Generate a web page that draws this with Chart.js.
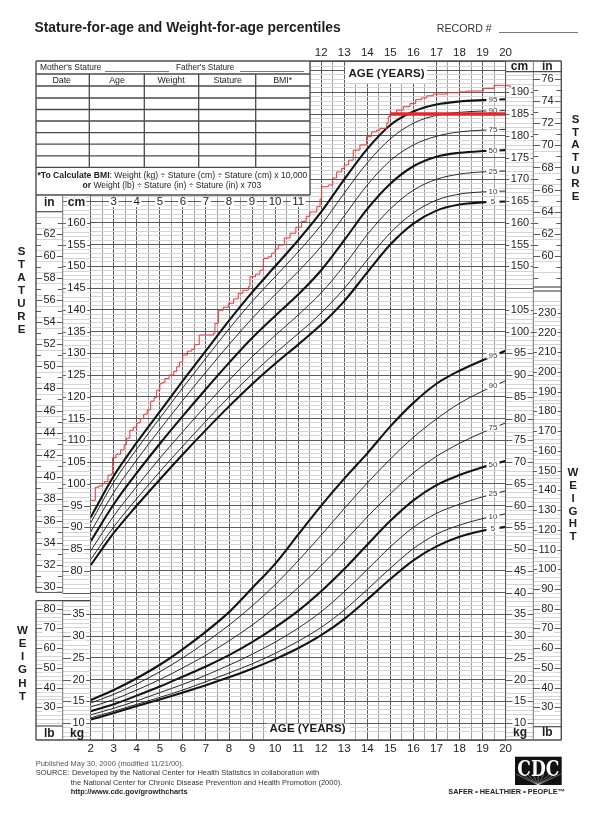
<!DOCTYPE html>
<html>
<head>
<meta charset="utf-8">
<title>Stature-for-age and Weight-for-age percentiles</title>
<script src="https://cdn.jsdelivr.net/npm/chart.js@4.4.1/dist/chart.umd.min.js"></script>
<style>
  html, body { margin: 0; padding: 0; background: #fff; }
  #chart { display: block; }
</style>
</head>
<body>
<canvas id="chart" width="602" height="830"></canvas>
<script>
// ---- data ----
const AGES = [2, 3, 4, 5, 6, 7, 8, 9, 10, 11, 12, 13, 14, 15, 16, 17, 18, 19, 20];
const PCT_NAMES = ["95", "90", "75", "50", "25", "10", "5"];
const THICK = ["95", "50", "5"];

// stature-for-age, cm
const statureP95 = [92.3, 101.8, 109.5, 116.6, 123.7, 130.6, 137.5, 144.0, 150.0, 156.0, 162.5, 170.0, 177.0, 182.5, 185.6, 187.2, 187.9, 188.2, 188.4];
const statureP90 = [91.0, 100.4, 108.0, 115.1, 122.1, 128.9, 135.6, 141.9, 147.6, 153.3, 159.5, 166.8, 173.8, 179.3, 182.9, 184.7, 185.4, 185.7, 185.8];
const statureP75 = [88.9, 98.0, 105.5, 112.5, 119.2, 125.7, 132.0, 138.0, 143.5, 148.8, 154.6, 161.6, 168.7, 174.3, 177.9, 179.9, 180.9, 181.3, 181.5];
const statureP50 = [86.8, 95.3, 102.5, 109.2, 115.6, 121.8, 127.8, 133.5, 138.6, 143.5, 149.1, 156.0, 163.2, 169.0, 173.0, 175.2, 176.1, 176.5, 176.7];
const statureP25 = [84.6, 92.6, 99.4, 105.9, 112.0, 118.0, 123.8, 129.2, 134.1, 138.8, 143.9, 150.2, 157.3, 163.2, 167.5, 170.0, 171.2, 171.7, 171.9];
const statureP10 = [82.6, 90.1, 96.6, 102.8, 108.7, 114.4, 120.0, 125.2, 130.0, 134.5, 139.3, 144.9, 151.5, 157.7, 162.3, 165.2, 166.6, 167.1, 167.3];
const statureP5  = [81.3, 88.7, 95.0, 101.0, 106.8, 112.4, 117.8, 122.9, 127.6, 132.0, 136.6, 142.0, 148.6, 155.0, 159.8, 162.8, 164.2, 164.7, 164.9];

// weight-for-age, kg
const weightP95 = [15.3, 17.6, 20.3, 23.4, 27.0, 31.0, 35.5, 41.0, 46.6, 53.3, 60.0, 66.2, 72.0, 78.2, 83.6, 88.0, 91.0, 93.4, 95.6];
const weightP90 = [14.6, 16.6, 19.0, 21.8, 25.0, 28.6, 32.5, 36.9, 41.8, 47.3, 53.2, 59.3, 65.2, 70.7, 75.7, 79.9, 83.5, 86.3, 88.7];
const weightP75 = [13.7, 15.4, 17.6, 20.0, 22.7, 25.6, 28.9, 32.5, 36.6, 41.1, 46.2, 51.7, 57.4, 62.7, 67.5, 71.3, 74.3, 76.8, 79.0];
const weightP50 = [12.7, 14.3, 16.3, 18.4, 20.7, 23.0, 25.6, 28.6, 32.0, 35.8, 40.3, 45.4, 51.0, 56.5, 61.2, 64.7, 67.0, 68.8, 70.3];
const weightP25 = [11.9, 13.4, 15.1, 17.0, 18.9, 21.0, 23.3, 25.8, 28.6, 31.8, 35.6, 40.2, 45.3, 50.5, 55.0, 58.2, 60.3, 62.0, 63.4];
const weightP10 = [11.2, 12.7, 14.3, 15.9, 17.6, 19.5, 21.5, 23.6, 26.0, 28.8, 32.0, 36.0, 40.7, 45.6, 50.1, 53.4, 55.5, 57.0, 58.1];
const weightP5  = [10.8, 12.3, 13.9, 15.4, 17.0, 18.7, 20.5, 22.5, 24.7, 27.2, 30.2, 33.9, 38.4, 43.1, 47.4, 50.6, 52.8, 54.2, 55.1];

// the red plotted child: [age, stature cm]
const measuredStature = [
  [2.0, 96.2], [2.2, 99.2], [2.35, 99.5], [2.5, 100.0], [2.6, 100.5], [2.75, 102.0], [2.9, 102.3], [2.95, 106.0],
  [3.1, 106.8], [3.3, 107.8], [3.45, 109.0], [3.55, 110.5], [3.7, 112.3], [3.85, 113.0], [4.0, 114.0], [4.15, 115.0],
  [4.3, 116.0], [4.45, 117.0], [4.6, 119.0], [4.75, 119.8], [4.86, 121.5], [5.0, 123.0], [5.1, 123.3], [5.22, 124.2],
  [5.4, 125.0], [5.6, 125.8], [5.73, 126.9], [5.85, 128.0], [5.99, 129.6], [6.2, 130.5], [6.38, 130.9], [6.5, 132.0],
  [6.71, 134.2], [7.32, 134.6], [7.39, 136.9], [7.54, 139.9], [7.75, 140.6], [7.97, 141.5], [8.2, 142.5], [8.4, 143.8],
  [8.6, 144.5], [8.84, 145.3], [8.91, 147.6], [9.15, 148.2], [9.34, 149.1], [9.49, 151.8], [9.7, 152.2], [9.85, 153.0],
  [10.0, 154.0], [10.14, 154.9], [10.4, 156.5], [10.65, 157.6], [10.9, 159.0], [11.15, 160.3], [11.35, 161.5], [11.51, 162.5],
  [11.81, 163.7], [11.95, 165.5], [12.02, 168.3], [12.31, 168.7], [12.5, 170.3], [12.67, 171.7], [12.89, 172.5], [13.0, 173.3],
  [13.18, 174.4], [13.39, 176.7], [13.68, 177.9], [13.97, 179.8], [14.19, 180.9], [14.4, 181.3], [14.55, 181.7], [14.84, 182.9],
  [14.91, 184.4], [14.98, 185.1], [15.27, 185.9], [15.56, 186.7], [15.85, 187.4], [16.1, 188.3], [16.35, 188.7], [16.58, 189.2],
  [16.86, 189.6], [17.44, 189.9], [18.0, 190.1], [18.31, 190.3], [19.03, 190.9], [19.5, 191.6], [19.9, 191.5], [20.2, 190.9]
];
// thick red line at 185 cm
const targetStature = [[15, 185], [20, 185]];

// tick labels
const topAgeTicks = [12, 13, 14, 15, 16, 17, 18, 19, 20];
const bottomAgeTicks = [2, 3, 4, 5, 6, 7, 8, 9, 10, 11, 12, 13, 14, 15, 16, 17, 18, 19, 20];
const headerAgeTicks = [3, 4, 5, 6, 7, 8, 9, 10, 11];
const leftCmTicks = [80, 85, 90, 95, 100, 105, 110, 115, 120, 125, 130, 135, 140, 145, 150, 155, 160];
const leftInTicks = [30, 32, 34, 36, 38, 40, 42, 44, 46, 48, 50, 52, 54, 56, 58, 60, 62];
const leftKgTicks = [10, 15, 20, 25, 30, 35];
const leftLbTicks = [30, 40, 50, 60, 70, 80];
const rightCmTicks = [150, 155, 160, 165, 170, 175, 180, 185, 190];
const rightInTicks = [60, 62, 64, 66, 68, 70, 72, 74, 76];
const rightKgTicks = [10, 15, 20, 25, 30, 35, 40, 45, 50, 55, 60, 65, 70, 75, 80, 85, 90, 95, 100, 105];
const rightLbTicks = [30, 40, 50, 60, 70, 80, 90, 100, 110, 120, 130, 140, 150, 160, 170, 180, 190, 200, 210, 220, 230];

const CM_MIN = 41.1, CM_MAX = 197.2;   // stature axis range
const KG_SHIFT = 35;                    // weight grid shares the cm lines (kg = cm - 35)

const FONT = '"Liberation Sans", Arial, Helvetica, sans-serif';
const DARK = "#5c5c5c", MID = "#a3a3a3", LIGHT = "#d4d4d4", INK = "#1e1e1e";

const statureSeries = [statureP95, statureP90, statureP75, statureP50, statureP25, statureP10, statureP5];
const weightSeries = [weightP95, weightP90, weightP75, weightP50, weightP25, weightP10, weightP5];

function curve(name, values, axis) {
  const thick = THICK.includes(name);
  return {
    label: axis + " P" + name,
    yAxisID: axis,
    data: AGES.map((a, i) => ({ x: a, y: values[i] })),
    borderColor: "#141414",
    borderWidth: thick ? 2.1 : 0.9,
    pointRadius: 0,
    cubicInterpolationMode: "monotone",
    fill: false
  };
}

// ---- little drawing helpers ----
function hline(ctx, x1, x2, y, color, w) {
  ctx.strokeStyle = color; ctx.lineWidth = w || 1;
  ctx.beginPath(); ctx.moveTo(x1, y); ctx.lineTo(x2, y); ctx.stroke();
}
function vline(ctx, x, y1, y2, color, w) {
  ctx.strokeStyle = color; ctx.lineWidth = w || 1;
  ctx.beginPath(); ctx.moveTo(x, y1); ctx.lineTo(x, y2); ctx.stroke();
}
function text(ctx, s, x, y, size, opts) {
  opts = opts || {};
  ctx.font = (opts.bold ? "bold " : "") + size + "px " + FONT;
  ctx.textAlign = opts.align || "center";
  ctx.textBaseline = opts.base || "middle";
  const w = ctx.measureText(s).width;
  if (opts.bg) {
    const x0 = ctx.textAlign === "center" ? x - w / 2 : (ctx.textAlign === "right" ? x - w : x);
    ctx.fillStyle = "#fff";
    ctx.fillRect(x0 - (opts.pad || 1.5), y - size * 0.42, w + 2 * (opts.pad || 1.5), size * 0.84);
  }
  ctx.fillStyle = opts.color || INK;
  ctx.fillText(s, x, y);
}
// draw runs of text (bold / normal) squeezed to a given width
function fitRuns(ctx, runs, x, y, width, opts) {
  opts = opts || {};
  let total = 0;
  runs.forEach(r => { ctx.font = (r.b ? "bold " : "") + "20px " + FONT; total += ctx.measureText(r.t).width; });
  const size = 20 * width / total;
  let cx = x;
  ctx.textAlign = "left"; ctx.textBaseline = opts.base || "middle";
  ctx.fillStyle = opts.color || INK;
  runs.forEach(r => {
    ctx.font = (r.b ? "bold " : "") + size + "px " + FONT;
    ctx.fillText(r.t, cx, y);
    cx += ctx.measureText(r.t).width;
  });
}

// percentile tags near the right end of each curve
function drawCurveTags(chart) {
  const { ctx, scales: { x, y, y2 } } = chart;
  const lx = x.getPixelForValue(19.45);
  const n = AGES.length - 1;
  const tag = (name, vals, sc) => {
    const v = vals[n] - (vals[n] - vals[n - 1]) * 0.5;
    const py = sc.getPixelForValue(v);
    ctx.fillStyle = "#fff";
    ctx.fillRect(lx - 6.5, py - 3.2, 13, 6.4);
    text(ctx, name, lx, py + 0.3, 8, { color: "#3a3a3a" });
  };
  PCT_NAMES.forEach((p, i) => tag(p, statureSeries[i], y));
  PCT_NAMES.forEach((p, i) => tag(p, weightSeries[i], y2));
}

function drawFrame(chart) {
  const { ctx, chartArea: a, scales: { x, y, y2 } } = chart;
  const L0 = 36, L1 = 62.7, R1 = 533.3, R2 = 561.3;
  const TB = 195;                 // bottom of the record table
  const pyCm = v => y.getPixelForValue(v);
  const pyKg = v => y2.getPixelForValue(v);
  const pyIn = v => pyCm(v * 2.54);
  const pyLb = v => pyKg(v * 0.45359);
  ctx.save();

  // grid continues through the two cm/kg columns
  for (let v = Math.ceil(CM_MIN); v <= Math.floor(CM_MAX); v++) {
    const py = Math.round(pyCm(v)) + 0.5;
    const col = v % 5 === 0 ? DARK : LIGHT;
    if (py > TB + 1 && py < a.bottom - 1) hline(ctx, L1, a.left, py, col, 1);
    if (py > 72 && py < a.bottom - 1) hline(ctx, a.right, R1, py, col, 1);
  }
  // inch / pound columns: light lines, darker ticks
  const inchColumn = (x1, x2, top, bot, from, to, conv) => {
    for (let v = from; v <= to; v += 0.5) {
      const py = Math.round(conv(v)) + 0.5;
      if (py <= top + 1 || py >= bot - 1) continue;
      if (Number.isInteger(v)) {
        hline(ctx, x1, x1 + 5, py, DARK, 1); hline(ctx, x2 - 5, x2, py, DARK, 1);
      } else hline(ctx, x1, x2, py, LIGHT, 1);
    }
  };
  const poundColumn = (x1, x2, top, bot, from, to) => {
    for (let v = from; v <= to; v += 2) {
      const py = Math.round(pyLb(v)) + 0.5;
      if (py <= top + 1 || py >= bot - 1) continue;
      if (v % 10 === 0) { hline(ctx, x1, x1 + 5, py, DARK, 1); hline(ctx, x2 - 5, x2, py, DARK, 1); }
      else hline(ctx, x1, x2, py, LIGHT, 1);
    }
  };
  inchColumn(L0, L1, 211.7, 592.3, 28, 64, pyIn);
  poundColumn(L0, L1, 600.7, 726, 20, 84);
  inchColumn(R1, R2, 71.7, 287, 58, 78, pyIn);
  poundColumn(R1, R2, 291, 726.7, 20, 236);

  // record table (covers the grid top-left)
  ctx.fillStyle = "#fff";
  ctx.fillRect(L0, a.top, 310 - L0, TB - a.top);
  const rowLines = [74, 86, 98, 109.5, 121, 132.7, 144.2, 155.8, 167.3];
  rowLines.forEach(ry => hline(ctx, L0, 310, ry, "#4a4a4a", 1.3));
  [89.3, 144.3, 198.7, 255.7].forEach(cx => vline(ctx, cx, 74, 167.3, "#4a4a4a", 1.3));
  fitRuns(ctx, [{ t: "Mother's Stature" }], 40, 68, 61.5);
  hline(ctx, 105, 169, 71.5, "#555", 0.8);
  fitRuns(ctx, [{ t: "Father's Stature" }], 176, 68, 58.5);
  hline(ctx, 240, 304, 71.5, "#555", 0.8);
  [["Date", 61.7], ["Age", 117], ["Weight", 171], ["Stature", 227.7], ["BMI*", 282.7]]
    .forEach(([s, cx]) => text(ctx, s, cx, 80.8, 8.8));
  fitRuns(ctx, [{ t: "*To Calculate BMI", b: true }, { t: ": Weight (kg) \u00f7 Stature (cm) \u00f7 Stature (cm) x 10,000" }], 37.5, 175.3, 270.5);
  fitRuns(ctx, [{ t: "or", b: true }, { t: " Weight (lb) \u00f7 Stature (in) \u00f7 Stature (in) x 703" }], 82.5, 185.8, 179);

  // white patches behind the in-grid "AGE (YEARS)" captions
  ctx.fillStyle = "#fff";
  ctx.fillRect(345, a.top + 1, 82, 21);
  ctx.fillRect(266.5, 723.6, 83.5, a.bottom - 724);
  text(ctx, "AGE (YEARS)", 386.5, 73.8, 11.6, { bold: true });
  text(ctx, "AGE (YEARS)", 307.5, 729.2, 11.6, { bold: true });

  // column borders & frame
  const F = "#4d4d4d";
  hline(ctx, L0, R2, a.top, F, 1.4);
  hline(ctx, L0, R2, a.bottom, F, 1.4);
  vline(ctx, L0, a.top, 592.3, F, 1.4);
  vline(ctx, L0, 600.7, a.bottom, F, 1.4);
  hline(ctx, L0, 310, TB, F, 1.4);
  vline(ctx, 310, a.top, TB, F, 1.4);
  vline(ctx, L1, TB, 592.3, "#777", 1);
  vline(ctx, L1, 600.7, a.bottom, "#777", 1);
  hline(ctx, L0, L1, 211.7, F, 1.2);
  hline(ctx, L0, L1, 592.3, F, 1.2);
  hline(ctx, L0, a.left, 600.7, F, 1.2);
  hline(ctx, L0, L1, 726, F, 1.2);
  vline(ctx, R1, a.top, a.bottom, "#777", 1);
  vline(ctx, R2, a.top, a.bottom, F, 1.4);
  hline(ctx, a.right, R2, 71.7, F, 1.2);
  hline(ctx, R1, R2, 287, F, 1.2);
  hline(ctx, R1, R2, 291, F, 1.2);
  hline(ctx, R1, R2, 726.7, F, 1.2);
  vline(ctx, a.right, a.top, a.bottom, DARK, 1);

  // column headers
  text(ctx, "in", 49.3, 202.5, 12, { bold: true });
  text(ctx, "cm", 76.5, 202.5, 12, { bold: true, bg: true, pad: 1 });
  text(ctx, "lb", 49.3, 733.3, 12, { bold: true });
  text(ctx, "kg", 77, 733.3, 12, { bold: true });
  text(ctx, "cm", 519.5, 66.5, 12, { bold: true });
  text(ctx, "in", 547.3, 66.5, 12, { bold: true });
  text(ctx, "kg", 520, 732.5, 12, { bold: true });
  text(ctx, "lb", 547.3, 732.5, 12, { bold: true });

  // axis tick labels (positions from the scales)
  const LBL = 11;
  headerAgeTicks.forEach(v => text(ctx, String(v), x.getPixelForValue(v), 202.3, 11.5, { bg: true, pad: 1.5 }));
  leftCmTicks.forEach(v => text(ctx, String(v), 76.5, pyCm(v), LBL, { bg: true }));
  leftInTicks.forEach(v => { hline(ctx, L0, L1, Math.round(pyIn(v)) + 0.5, DARK, 1); text(ctx, String(v), 49.5, pyIn(v), LBL, { bg: true, pad: 1.2 }); });
  leftKgTicks.forEach(v => text(ctx, String(v), 78.5, pyKg(v), LBL, { bg: true }));
  leftLbTicks.forEach(v => { hline(ctx, L0, L1, Math.round(pyLb(v)) + 0.5, DARK, 1); text(ctx, String(v), 49.5, pyLb(v), LBL, { bg: true, pad: 1.2 }); });
  rightCmTicks.forEach(v => text(ctx, String(v), 520, pyCm(v), LBL, { bg: true }));
  rightInTicks.forEach(v => { hline(ctx, R1, R2, Math.round(pyIn(v)) + 0.5, DARK, 1); text(ctx, String(v), 547.5, pyIn(v), LBL, { bg: true, pad: 1.2 }); });
  rightKgTicks.forEach(v => text(ctx, String(v), 520, pyKg(v), LBL, { bg: true }));
  rightLbTicks.forEach(v => { hline(ctx, R1, R2, Math.round(pyLb(v)) + 0.5, DARK, 1); text(ctx, String(v), 547.3, pyLb(v), LBL, { bg: true, pad: 1.2 }); });
  topAgeTicks.forEach(v => text(ctx, String(v), x.getPixelForValue(v), 53.3, 11.5));
  bottomAgeTicks.forEach(v => text(ctx, String(v), x.getPixelForValue(v), 749.3, 11.5));

  // vertical words
  const word = (w, cx, y0, step) => w.split("").forEach((c, i) => text(ctx, c, cx, y0 + i * step, 11.5, { bold: true }));
  word("STATURE", 21.5, 251.7, 13.05);
  word("WEIGHT", 22.5, 630.7, 13.2);
  word("STATURE", 575.5, 119.5, 12.85);
  word("WEIGHT", 573, 472.7, 12.9);

  // title & record number
  fitRuns(ctx, [{ t: "Stature-for-age and Weight-for-age percentiles", b: true }], 34.5, 32.3, 306.5, { base: "alphabetic" });
  fitRuns(ctx, [{ t: "RECORD #" }], 436.8, 32.3, 55, { base: "alphabetic", color: "#333" });
  hline(ctx, 499, 578, 32.5, "#777", 1);

  // footer
  fitRuns(ctx, [{ t: "Published May 30, 2000 (modified 11/21/00)." }], 35.7, 764, 148.3, { color: "#555" });
  fitRuns(ctx, [{ t: "SOURCE: Developed by the National Center for Health Statistics in collaboration with" }], 35.7, 773.3, 283.6, { color: "#333" });
  fitRuns(ctx, [{ t: "the National Center for Chronic Disease Prevention and Health Promotion (2000)." }], 70.7, 782.5, 272, { color: "#333" });
  fitRuns(ctx, [{ t: "http://www.cdc.gov/growthcharts", b: true }], 70.7, 791.7, 117, { color: "#222" });

  // CDC mark
  ctx.fillStyle = "#111";
  ctx.fillRect(515, 756.7, 46.7, 28.3);
  ctx.strokeStyle = "rgba(255,255,255,0.55)"; ctx.lineWidth = 0.7;
  for (let k = 0; k < 9; k++) {
    ctx.beginPath(); ctx.moveTo(538, 785); ctx.lineTo(516 + k * 5.6, 774); ctx.stroke();
  }
  ctx.font = "bold 22px 'DejaVu Serif', serif";
  const cw = ctx.measureText("CDC").width;
  ctx.save();
  ctx.translate(538.3, 770.5); ctx.scale(42 / cw, 1);
  ctx.fillStyle = "#fff"; ctx.textAlign = "center"; ctx.textBaseline = "middle";
  ctx.fillText("CDC", 0, 0);
  ctx.restore();
  fitRuns(ctx, [{ t: "SAFER \u2022 HEALTHIER \u2022 PEOPLE\u2122", b: true }], 448.3, 792, 116.7, { color: "#222" });

  ctx.restore();
}

const decor = {
  id: "decor",
  beforeDatasetDraw(chart, args) {
    if (args.index === 1) drawCurveTags(chart);   // after all black curves, before the red ones
  },
  afterDraw(chart) { drawFrame(chart); }
};

const datasets = [
  {
    label: "Target", yAxisID: "y",
    data: targetStature.map(([a, v]) => ({ x: a, y: v })),
    borderColor: "#e3272c", borderWidth: 3.6, pointRadius: 0, clip: 2
  },
  {
    label: "Measured stature", yAxisID: "y",
    data: measuredStature.map(([a, v]) => ({ x: a, y: v })),
    borderColor: "#ef3434", borderWidth: 1, pointRadius: 0, stepped: "before", clip: 8
  }
];
PCT_NAMES.forEach((p, i) => datasets.push(curve(p, statureSeries[i], "y")));
PCT_NAMES.forEach((p, i) => datasets.push(curve(p, weightSeries[i], "y2")));

const yGridColor = c => {
  const v = c.tick.value, r = Math.round(v);
  if (Math.abs(v - r) > 1e-6) return DARK;
  return r % 5 === 0 ? DARK : LIGHT;
};

new Chart(document.getElementById("chart"), {
  type: "line",
  data: { datasets },
  options: {
    responsive: false,
    animation: false,
    events: [],
    layout: { padding: { left: 90.7, right: 602 - 505.6, top: 61, bottom: 830 - 740 } },
    plugins: { legend: { display: false }, tooltip: { enabled: false }, title: { display: false } },
    scales: {
      x: {
        type: "linear", min: 2, max: 20,
        ticks: { stepSize: 0.5, display: false, autoSkip: false },
        grid: { drawTicks: false, lineWidth: 1, color: c => (Number.isInteger(c.tick.value) ? DARK : MID) },
        border: { display: false },
        afterFit: s => { s.height = 0; }
      },
      y: {
        type: "linear", position: "left", min: CM_MIN, max: CM_MAX,
        ticks: { stepSize: 1, display: false, autoSkip: false },
        grid: { drawTicks: false, lineWidth: 1, color: yGridColor },
        border: { display: false },
        afterFit: s => { s.width = 0; }
      },
      y2: { type: "linear", display: false, min: CM_MIN - KG_SHIFT, max: CM_MAX - KG_SHIFT }
    }
  },
  plugins: [decor]
});
</script>
</body>
</html>
